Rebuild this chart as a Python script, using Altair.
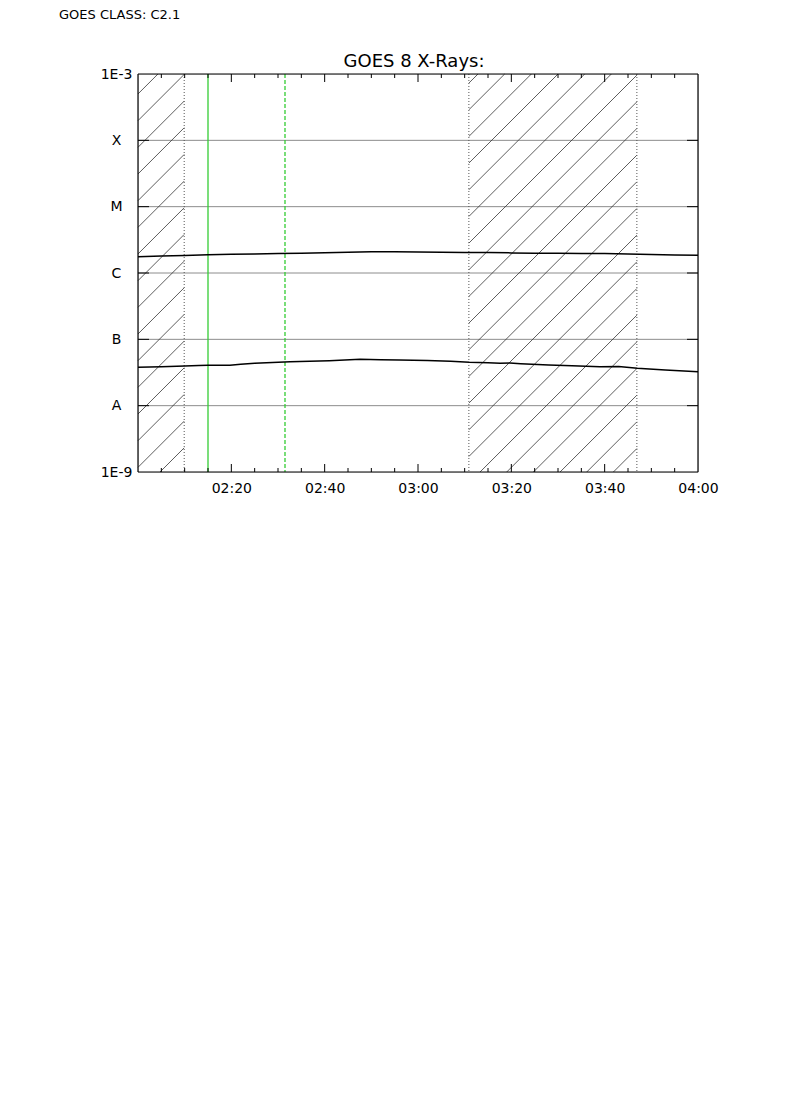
import altair as alt
import pandas as pd

# ---------------- data ----------------
# time in minutes after 02:00 UT
minutes_long = [0, 5, 10, 15, 20, 25, 30, 35, 40, 45, 50, 55, 60, 65, 70, 75, 80, 85, 90, 95, 100, 105, 110, 115, 120]
flux_long = [1.76e-6, 1.80e-6, 1.84e-6, 1.88e-6, 1.91e-6, 1.94e-6, 1.97e-6, 1.99e-6, 2.02e-6, 2.06e-6,
             2.10e-6, 2.10e-6, 2.08e-6, 2.06e-6, 2.04e-6, 2.03e-6, 2.01e-6, 1.99e-6, 1.98e-6, 1.97e-6,
             1.96e-6, 1.94e-6, 1.90e-6, 1.87e-6, 1.85e-6]

minutes_short = [0, 5, 10, 13, 15, 19.7, 22, 25, 32.6, 41, 47.6, 52, 56, 62, 67, 71, 75, 77.6, 79.7, 82,
                 88, 93, 99, 103, 107, 113, 120]
flux_short = [3.79e-8, 3.85e-8, 3.95e-8, 4.04e-8, 4.06e-8, 4.08e-8, 4.22e-8, 4.35e-8, 4.60e-8, 4.76e-8,
              5.00e-8, 4.92e-8, 4.88e-8, 4.80e-8, 4.67e-8, 4.51e-8, 4.45e-8, 4.36e-8, 4.40e-8, 4.30e-8,
              4.10e-8, 4.00e-8, 3.87e-8, 3.90e-8, 3.66e-8, 3.45e-8, 3.25e-8]

hatch_start = [0.0, 70.9]
hatch_end = [9.9, 106.9]
boundary_lines = [9.9, 70.9, 106.9]
flare_start = [15.0]
flare_end = [31.5]

x_tick_minutes = [20, 40, 60, 80, 100, 120]
x_tick_labels = ["02:20", "02:40", "03:00", "03:20", "03:40", "04:00"]
x_minor_minutes = [m for m in range(5, 120, 5) if m % 20 != 0]
y_tick_values = [1e-9, 1e-8, 1e-7, 1e-6, 1e-5, 1e-4, 1e-3]
y_tick_labels = ["1E-9", "A", "B", "C", "M", "X", "1E-3"]
grid_values = [1e-8, 1e-7, 1e-6, 1e-5, 1e-4]

class_text = "GOES CLASS: C2.1"
title_text = "GOES 8 X-Rays:"

# ---------------- layout / style ----------------
W, H = 560, 398
FONT = "DejaVu Sans"

# ---------------- hatch segments (45 deg in screen space) ----------------
min_per_px = 120.0 / W
dec_per_px = 6.0 / H
spacing = 26.67
phase = 22.0
hatch_rows = []
for a, b in zip(hatch_start, hatch_end):
    a_px, b_px = a / min_per_px, b / min_per_px
    for k in range(-40, 40):
        c = phase + k * spacing
        xs, xe = max(a_px, c), min(b_px, c + H)
        if xs < xe:
            hatch_rows.append({
                "x": xs * min_per_px, "x2": xe * min_per_px,
                "y": 10 ** (-9 + (xs - c) * dec_per_px),
                "y2": 10 ** (-9 + (xe - c) * dec_per_px),
            })
hatch_df = pd.DataFrame(hatch_rows)

curves = pd.DataFrame(
    [{"t": t, "f": f, "ch": "long"} for t, f in zip(minutes_long, flux_long)]
    + [{"t": t, "f": f, "ch": "short"} for t, f in zip(minutes_short, flux_short)]
)

# ---------------- scales / axes ----------------
def map_expr(values, labels, key):
    expr = "''"
    for v, l in reversed(list(zip(values, labels))):
        expr = f"({key} == {v}) ? '{l}' : {expr}"
    return expr

x_label_expr = map_expr(x_tick_minutes, x_tick_labels, "datum.value")
y_label_expr = map_expr(list(range(-9, -2)), y_tick_labels, "round(log(datum.value)/LN10)")

xscale = alt.Scale(domain=[0, 120], nice=False, zero=False)
yscale = alt.Scale(type="log", domain=[1e-9, 1e-3], nice=False)
xaxis = alt.Axis(values=x_tick_minutes, labelExpr=x_label_expr, ticks=False, domain=False,
                 grid=False, title=None, labelFont=FONT, labelFontSize=14, labelColor="black",
                 labelPadding=9, labelFlush=False, labelOverlap=False)
yaxis = alt.Axis(values=y_tick_values, labelExpr=y_label_expr, ticks=False, domain=False,
                 grid=False, title=None, labelFont=FONT, labelFontSize=14, labelColor="black",
                 labelPadding=22, labelAlign="center", labelFlush=False, labelOverlap=False)


def X(field):
    return alt.X(field, type="quantitative", scale=xscale, axis=xaxis)


def Y(field):
    return alt.Y(field, type="quantitative", scale=yscale, axis=yaxis)


grid = alt.Chart(pd.DataFrame({"g": grid_values})).mark_rule(
    color="#8c8c8c", strokeWidth=1).encode(y=Y("g"))

hatch = alt.Chart(hatch_df).mark_rule(color="#333333", strokeWidth=0.8).encode(
    x=X("x"), x2="x2", y=Y("y"), y2="y2")

bounds = alt.Chart(pd.DataFrame({"b": boundary_lines})).mark_rule(
    color="#555555", strokeWidth=1, strokeDash=[1, 2]).encode(x=X("b"))

green_solid = alt.Chart(pd.DataFrame({"s": flare_start})).mark_rule(
    color="#33cc33", strokeWidth=1.3).encode(x=X("s"))
green_dash = alt.Chart(pd.DataFrame({"e": flare_end})).mark_rule(
    color="#33cc33", strokeWidth=1.3, strokeDash=[4, 2]).encode(x=X("e"))

lines = alt.Chart(curves).mark_line(color="black", strokeWidth=1.5).encode(
    x=X("t"), y=Y("f"), detail="ch:N")

# inward ticks
maj = pd.DataFrame({"m": x_tick_minutes[:-1]})
mnr = pd.DataFrame({"m": x_minor_minutes})
ydec = pd.DataFrame({"v": grid_values})
tick_layers = [
    alt.Chart(maj).mark_rule(color="black").encode(x=X("m"), y=alt.value(H), y2=alt.value(H - 8)),
    alt.Chart(maj).mark_rule(color="black").encode(x=X("m"), y=alt.value(0), y2=alt.value(8)),
    alt.Chart(mnr).mark_rule(color="black").encode(x=X("m"), y=alt.value(H), y2=alt.value(H - 4)),
    alt.Chart(mnr).mark_rule(color="black").encode(x=X("m"), y=alt.value(0), y2=alt.value(4)),
    alt.Chart(ydec).mark_rule(color="black").encode(y=Y("v"), x=alt.value(0), x2=alt.value(11)),
    alt.Chart(ydec).mark_rule(color="black").encode(y=Y("v"), x=alt.value(W - 11), x2=alt.value(W)),
]

# frame
frame_df = pd.DataFrame({"k": [0]})
frame = [
    alt.Chart(frame_df).mark_rule(color="black", strokeWidth=1.2).encode(
        x=alt.value(0), x2=alt.value(W), y=alt.value(0)),
    alt.Chart(frame_df).mark_rule(color="black", strokeWidth=1.2).encode(
        x=alt.value(0), x2=alt.value(W), y=alt.value(H)),
    alt.Chart(frame_df).mark_rule(color="black", strokeWidth=1.2).encode(
        y=alt.value(0), y2=alt.value(H), x=alt.value(0)),
    alt.Chart(frame_df).mark_rule(color="black", strokeWidth=1.2).encode(
        y=alt.value(0), y2=alt.value(H), x=alt.value(W)),
]

label = alt.Chart(pd.DataFrame({"txt": [class_text]})).mark_text(
    align="left", baseline="top", font=FONT, fontSize=13, color="black").encode(
    text="txt:N", x=alt.value(-79), y=alt.value(-65))

title = alt.Chart(pd.DataFrame({"txt": [title_text]})).mark_text(
    align="center", baseline="alphabetic", font=FONT, fontSize=18, color="black").encode(
    text="txt:N", x=alt.value(276), y=alt.value(-7))

chart = alt.layer(grid, hatch, bounds, green_solid, green_dash, lines, *tick_layers, *frame,
                  label, title).properties(
    width=W, height=H,
    autosize=alt.AutoSizeParams(type="none"),
    padding={"left": 130, "top": 66, "right": 84, "bottom": 40},
).configure_view(stroke="black", strokeWidth=1).configure(background="white")

chart.save("out.html", embed_options={"renderer": "svg", "actions": False})
